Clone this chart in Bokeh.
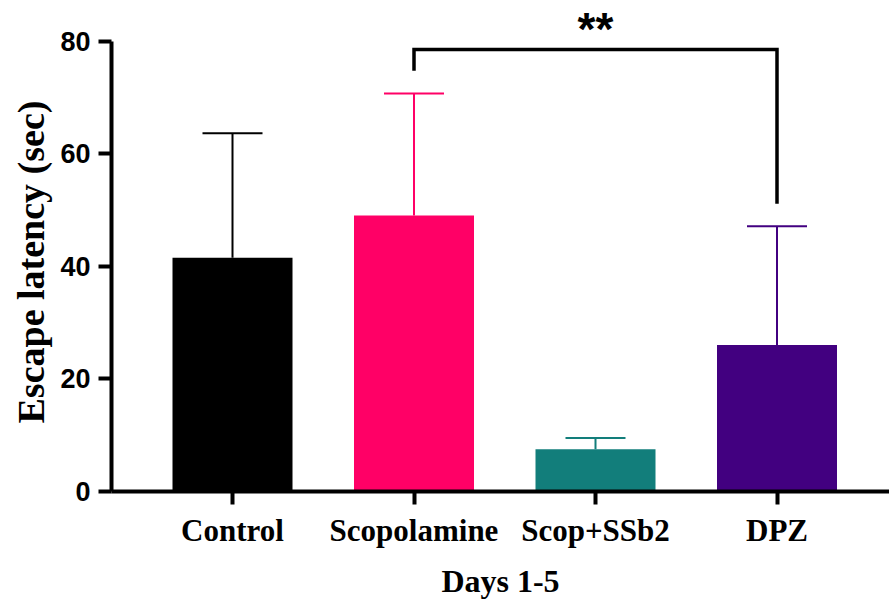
import numpy as np
from bokeh.plotting import figure
from bokeh.models import FixedTicker, Title
from bokeh.core.properties import value
from bokeh.embed import file_html
from bokeh.resources import INLINE

# ---- data ----
groups = ["Control", "Scopolamine", "Scop+SSb2", "DPZ"]
means = [41.5, 49.0, 7.5, 26.0]
upper = [63.6, 70.7, 9.5, 47.1]
colors = ["#000000", "#FF0066", "#127E7B", "#420080"]
y_ticks = [0, 20, 40, 60, 80]
x_title = "Days 1-5"
y_title = "Escape latency (sec)"
sig_pair = ("Scopolamine", "DPZ")
sig_label = "**"

# ---- layout ----
W, H = 889, 601
left, bottom = 111, 110
frame_w = W - left
frame_h = H - bottom
step_px = 181.5
first_px = 121
x_start = -first_px / step_px
x_end = x_start + frame_w / step_px
px_per_unit = 5.631
y_end = frame_h / px_per_unit

p = figure(width=W, height=H, output_backend="svg", toolbar_location=None,
           x_range=(x_start, x_end), y_range=(0, y_end),
           min_border_left=left, min_border_bottom=bottom,
           min_border_top=0, min_border_right=0)
p.outline_line_color = None
p.grid.visible = False
p.background_fill_color = "white"
p.border_fill_color = "white"

xs = np.arange(len(groups))
bar_w = 120 / step_px
cap_half = 30 / step_px

# error bars (upper only)
p.segment(x0=xs, y0=means, x1=xs, y1=upper, line_color=colors, line_width=2)
p.segment(x0=xs - cap_half, y0=upper, x1=xs + cap_half, y1=upper,
          line_color=colors, line_width=2)
p.vbar(x=xs, top=means, bottom=0, width=bar_w, fill_color=colors, line_color=None)

# significance bracket
i0, i1 = groups.index(sig_pair[0]), groups.index(sig_pair[1])
gap = 4.0
bracket_y = max(upper[i0], upper[i1]) + 7.8
p.line(x=[i0, i0, i1, i1],
       y=[upper[i0] + gap, bracket_y, bracket_y, upper[i1] + gap],
       line_color="black", line_width=3.5, line_join="miter")
p.text(x=[(i0 + i1) / 2], y=[bracket_y + 3.6], text=[sig_label],
       text_font=value("Liberation Sans"), text_font_style="bold",
       text_font_size="46px", text_align="center", text_baseline="middle",
       text_color="black")

# axes
yax = p.yaxis[0]
yax.ticker = FixedTicker(ticks=y_ticks)
yax.bounds = (0, 80)
yax.minor_tick_line_color = None
yax.axis_line_width = 4
yax.axis_line_color = "black"
yax.major_tick_line_width = 4
yax.major_tick_line_color = "black"
yax.major_tick_out = 13
yax.major_tick_in = 0
yax.major_label_text_font = "Liberation Sans"
yax.major_label_text_font_style = "bold"
yax.major_label_text_font_size = "27px"
yax.major_label_text_color = "black"
yax.major_label_standoff = 8

xax = p.xaxis[0]
xax.ticker = FixedTicker(ticks=list(xs))
xax.major_label_overrides = {int(i): g for i, g in zip(xs, groups)}
xax.minor_tick_line_color = None
xax.axis_line_width = 4
xax.axis_line_color = "black"
xax.major_tick_line_width = 4
xax.major_tick_line_color = "black"
xax.major_tick_out = 13
xax.major_tick_in = 0
xax.major_label_text_font = "Liberation Serif"
xax.major_label_text_font_style = "bold"
xax.major_label_text_font_size = "31px"
xax.major_label_text_color = "black"
xax.major_label_standoff = 8
xax.axis_label = x_title
xax.axis_label_text_font = "Liberation Serif"
xax.axis_label_text_font_style = "bold"
xax.axis_label_text_font_size = "32px"
xax.axis_label_text_color = "black"
xax.axis_label_standoff = 12

p.add_layout(Title(text=y_title, align="left", offset=68,
                   text_font="Liberation Serif", text_font_style="bold",
                   text_font_size="38px", text_color="black", standoff=12), "left")

open("out.html", "w").write(file_html(p, INLINE))
